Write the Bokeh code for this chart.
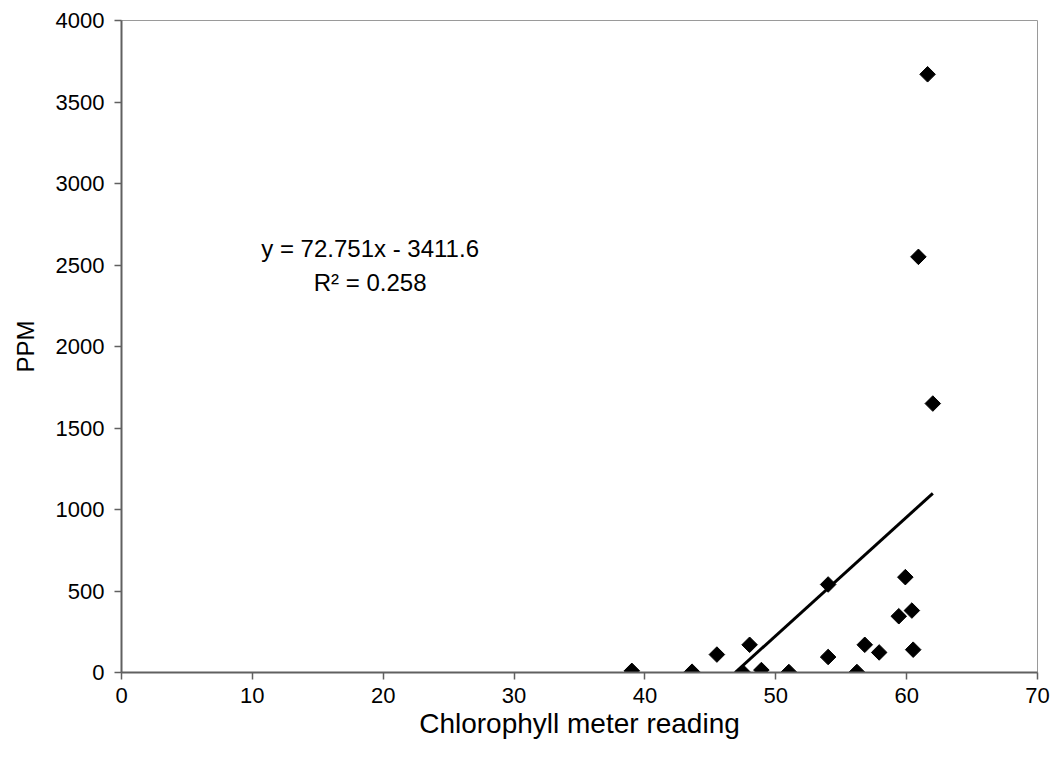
from bokeh.plotting import figure
from bokeh.models import Range1d, FixedTicker, Label, ColumnDataSource
from bokeh.embed import file_html
from bokeh.resources import INLINE
import numpy as np

# Data
chlorophyll = [39.0, 43.6, 45.5, 48.0, 47.5, 48.9, 51.0, 54.0, 54.0, 56.2,
               56.8, 57.9, 59.4, 59.9, 60.4, 60.5, 60.9, 61.6, 62.0]
ppm = [10, 5, 110, 170, 0, 15, 3, 540, 95, 3,
       170, 123, 345, 585, 380, 140, 2550, 3670, 1650]
slope = 72.751
intercept = -3411.6
x_ticks = [0, 10, 20, 30, 40, 50, 60, 70]
y_ticks = [0, 500, 1000, 1500, 2000, 2500, 3000, 3500, 4000]
eq_text = "y = 72.751x - 3411.6"
r2_text = "R² = 0.258"

FONT = "Liberation Sans"

p = figure(width=1056, height=759, output_backend="svg", toolbar_location=None,
           x_range=Range1d(0, 70), y_range=Range1d(0, 4000),
           min_border_left=121, min_border_right=19, min_border_top=20, min_border_bottom=87)
p.outline_line_color = "#9a9a9a"
p.outline_line_width = 1
p.grid.visible = False
p.background_fill_color = "white"
p.border_fill_color = "white"

for ax in (p.xaxis[0], p.yaxis[0]):
    ax.axis_line_color = "#606060"
    ax.axis_line_width = 2
    ax.major_tick_line_color = "#606060"
    ax.major_tick_line_width = 1.5
    ax.major_tick_out = 7
    ax.major_tick_in = 0
    ax.minor_tick_line_color = None
    ax.major_label_text_font = FONT
    ax.major_label_text_font_size = "22px"
    ax.major_label_text_color = "black"
    ax.axis_label_text_font = FONT
    ax.axis_label_text_font_style = "normal"
    ax.axis_label_text_color = "black"

p.xaxis.ticker = FixedTicker(ticks=x_ticks)
p.yaxis.ticker = FixedTicker(ticks=y_ticks)
p.xaxis.axis_label = "Chlorophyll meter reading"
p.xaxis.axis_label_text_font_size = "28px"
p.xaxis.major_label_standoff = 8
p.xaxis.axis_label_standoff = 2
p.yaxis.axis_label = "PPM"
p.yaxis.axis_label_text_font_size = "24px"
p.yaxis.major_label_standoff = 10
p.yaxis.axis_label_standoff = 14

# Trend line: from where it crosses zero to the maximum x
x0 = -intercept / slope
x1 = max(chlorophyll)
xs = [x0, x1]
ys = [slope * v + intercept for v in xs]
p.line(xs, ys, line_color="black", line_width=3)

src = ColumnDataSource(dict(x=chlorophyll, y=ppm))
p.scatter("x", "y", source=src, marker="square", angle=np.pi / 4, size=11,
          fill_color="black", line_color="black")

p.add_layout(Label(x=19.0, y=2600, text=eq_text, text_align="center",
                   text_baseline="middle", text_font=FONT, text_font_size="24px",
                   text_color="black"))
p.add_layout(Label(x=19.0, y=2390, text=r2_text, text_align="center",
                   text_baseline="middle", text_font=FONT, text_font_size="24px",
                   text_color="black"))

open("out.html", "w").write(file_html(p, INLINE))
